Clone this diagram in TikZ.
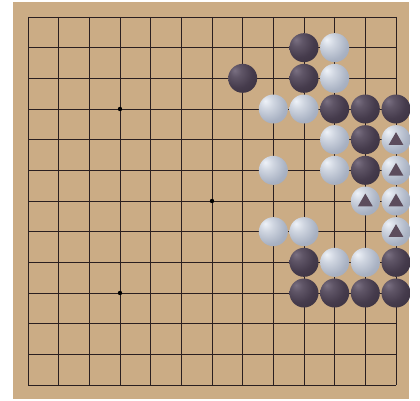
\documentclass[tikz,border=0pt]{standalone}
\usetikzlibrary{shapes.geometric}
\definecolor{board}{HTML}{CBAC85}
\definecolor{gridcol}{HTML}{2A1F20}
\definecolor{bhi}{HTML}{7A7082}
\definecolor{bmid}{HTML}{453B4C}
\definecolor{bedge}{HTML}{1C1720}
\definecolor{whi}{HTML}{EEF2F8}
\definecolor{wmid}{HTML}{A9B2C3}
\definecolor{wedge}{HTML}{6C7388}
\definecolor{tricol}{HTML}{5C4C5C}
\pgfdeclareradialshading{blackstone}{\pgfpoint{-14bp}{14bp}}{color(0bp)=(bhi); color(10bp)=(bhi!50!bmid); color(26bp)=(bmid); color(48bp)=(bmid!60!bedge); color(66bp)=(bedge); color(80bp)=(bedge)}
\pgfdeclareradialshading{whitestone}{\pgfpoint{-14bp}{14bp}}{color(0bp)=(whi); color(12bp)=(wmid!45!whi); color(30bp)=(wmid); color(50bp)=(wmid!75!wedge); color(66bp)=(wedge); color(80bp)=(wedge)}
\tikzset{
  gridline/.style={draw=gridcol, line width=0.9pt},
  starpt/.style={circle, fill=black, inner sep=0pt, minimum size=4.4pt},
  bstone/.style={circle, inner sep=0pt, minimum size=29pt, shading=blackstone},
  wstone/.style={circle, inner sep=0pt, minimum size=29pt, shading=whitestone},
  trimark/.style={regular polygon, regular polygon sides=3, inner sep=0pt, minimum size=17pt, fill=tricol, yshift=-1pt}
}
\begin{document}
\begin{tikzpicture}[x=1pt,y=-1pt]
\useasboundingbox (0,0) rectangle (420,401);
\fill[white] (0,0) rectangle (420,401);
\fill[board] (13,2) rectangle (409,399);
\foreach \i in {0,...,12} {
  \draw[gridline] ({28+\i*30.667},17) -- ({28+\i*30.667},385);
  \draw[gridline] (28,{17+\i*30.667}) -- (396,{17+\i*30.667});
}
\foreach \c/\r in {3/3,6/6,3/9,9/3,9/9}
  \node[starpt] (star-\c-\r) at ({28+\c*30.667},{17+\r*30.667}) {};
\foreach \c/\r in {9/1,7/2,9/2,10/3,11/3,12/3,11/4,11/5,9/8,12/8,9/9,10/9,11/9,12/9}
  \node[bstone] (b-\c-\r) at ({28+\c*30.667},{17+\r*30.667}) {};
\foreach \c/\r in {10/1,10/2,8/3,9/3,10/4,8/5,10/5,8/7,9/7,10/8,11/8}
  \node[wstone] (w-\c-\r) at ({28+\c*30.667},{17+\r*30.667}) {};
\foreach \c/\r in {12/4,12/5,11/6,12/6,12/7} {
  \node[wstone] (w-\c-\r) at ({28+\c*30.667},{17+\r*30.667}) {};
  \node[trimark] (t-\c-\r) at (w-\c-\r) {};
}
\end{tikzpicture}
\end{document}
